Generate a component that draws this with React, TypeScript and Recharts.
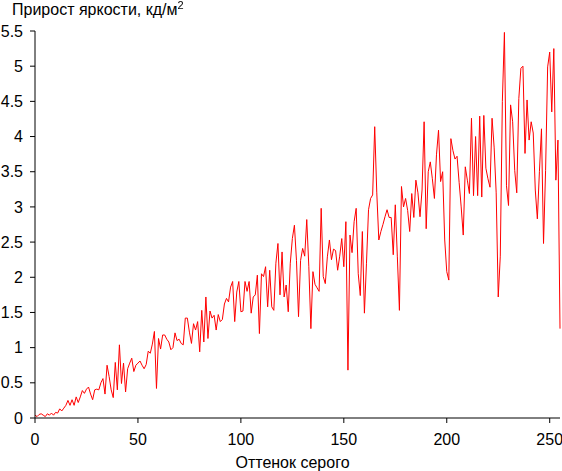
import React from "react";
import { LineChart, Line, XAxis, YAxis } from "recharts";

const grayLevels: number[] = Array.from({ length: 256 }, (_, i) => i);

const brightnessIncrease: number[] = [
  0.04, 0.02, 0.05, 0.06, 0.04, 0.02, 0.06, 0.04, 0.07, 0.04,
  0.08, 0.07, 0.13, 0.10, 0.14, 0.18, 0.25, 0.18, 0.26, 0.18,
  0.30, 0.22, 0.30, 0.39, 0.35, 0.41, 0.44, 0.34, 0.26, 0.40,
  0.41, 0.40, 0.50, 0.56, 0.34, 0.75, 0.59, 0.40, 0.29, 0.79,
  0.40, 1.04, 0.49, 0.78, 0.37, 0.70, 0.78, 0.85, 0.66, 0.75,
  0.78, 0.81, 0.75, 0.70, 0.76, 0.95, 0.92, 1.05, 1.23, 0.42,
  1.13, 0.98, 1.18, 1.18, 1.12, 1.08, 0.97, 1.00, 1.21, 1.10,
  1.12, 1.06, 1.04, 1.42, 1.42, 1.22, 1.06, 1.34, 1.25, 1.37,
  0.94, 1.53, 1.08, 1.72, 1.13, 1.52, 1.42, 1.46, 1.25, 1.47,
  1.37, 1.40, 1.62, 1.70, 1.65, 1.86, 1.94, 1.37, 1.79, 1.94,
  1.51, 1.52, 1.94, 1.80, 1.94, 1.49, 1.72, 1.75, 2.03, 1.20,
  2.05, 2.01, 2.15, 1.58, 2.10, 1.58, 1.53, 2.20, 2.48, 1.75,
  2.36, 1.72, 1.89, 1.51, 2.20, 2.55, 2.74, 2.24, 1.44, 2.24,
  2.41, 2.30, 2.82, 2.15, 1.27, 2.08, 1.90, 1.85, 1.80, 2.98,
  2.01, 1.91, 2.29, 2.53, 2.25, 2.40, 2.38, 2.10, 2.30, 2.55,
  2.15, 2.79, 0.68, 2.60, 2.35, 2.79, 2.98, 2.05, 1.74, 2.65,
  1.49, 2.20, 2.96, 3.12, 3.17, 4.14, 3.21, 2.53, 2.65, 2.75,
  2.86, 2.96, 2.85, 2.85, 2.32, 3.03, 2.29, 1.53, 3.29, 3.00,
  3.12, 2.95, 2.65, 3.19, 2.85, 3.38, 3.20, 2.86, 3.24, 4.21,
  2.69, 3.50, 3.64, 3.40, 3.12, 3.74, 4.09, 3.36, 3.50, 2.53,
  2.08, 1.96, 3.97, 3.80, 3.68, 3.72, 3.35, 3.00, 2.60, 3.57,
  3.38, 3.19, 4.26, 3.16, 4.00, 3.16, 4.29, 3.14, 4.30, 3.55,
  3.40, 3.28, 4.26, 3.85, 3.20, 1.72, 2.30, 4.50, 5.48, 3.30,
  3.02, 4.45, 4.21, 3.52, 3.20, 4.54, 4.97, 5.00, 3.76, 4.52,
  3.95, 4.21, 4.05, 3.24, 2.83, 3.50, 4.11, 2.48, 3.52, 4.99,
  5.20, 4.35, 5.25, 3.38, 3.95, 1.27,
];

const xTicks: number[] = [0, 50, 100, 150, 200, 250];
const yTicks: number[] = [0, 0.5, 1, 1.5, 2, 2.5, 3, 3.5, 4, 4.5, 5, 5.5];

const titleText = "Прирост яркости, кд/м";
const titleSup = "2";
const xLabel = "Оттенок серого";

const data = grayLevels.map((g, i) => ({ x: g, y: brightnessIncrease[i] }));

const FONT = "'Liberation Sans', Arial, sans-serif";

export default function App() {
  return (
    <div
      style={{
        position: "fixed",
        left: 0,
        top: 0,
        width: 562,
        height: 471,
        background: "#fff",
        fontFamily: FONT,
      }}
    >
      <LineChart
        width={562}
        height={471}
        data={data}
        margin={{ top: 31, right: 2, bottom: 0, left: 0 }}
      >
        <XAxis
          dataKey="x"
          type="number"
          domain={[0, 255]}
          ticks={xTicks}
          interval={0}
          height={53}
          tickSize={5}
          tickMargin={11}
          stroke="#000"
          tick={{ fill: "#000", fontSize: 16, fontFamily: FONT }}
          label={{
            value: xLabel,
            position: "insideBottom",
            offset: 3,
            dx: -5,
            fill: "#000",
            fontSize: 16,
            fontFamily: FONT,
          }}
        />
        <YAxis
          type="number"
          domain={[0, 5.5]}
          ticks={yTicks}
          interval={0}
          width={35}
          tickSize={5}
          tickMargin={7}
          stroke="#000"
          tickFormatter={(v: number) => String(v)}
          tick={{ fill: "#000", fontSize: 16, fontFamily: FONT }}
        />
        <Line
          type="linear"
          dataKey="y"
          stroke="#ff0000"
          strokeWidth={1}
          dot={false}
          isAnimationActive={false}
        />
      </LineChart>
      <div
        style={{
          position: "absolute",
          left: 12,
          top: 1,
          fontSize: 16,
          color: "#000",
          fontFamily: FONT,
          whiteSpace: "nowrap",
          lineHeight: "normal",
        }}
      >
        {titleText}
        <sup style={{ fontSize: 11, verticalAlign: "top", position: "relative", top: -2 }}>{titleSup}</sup>
      </div>
    </div>
  );
}
